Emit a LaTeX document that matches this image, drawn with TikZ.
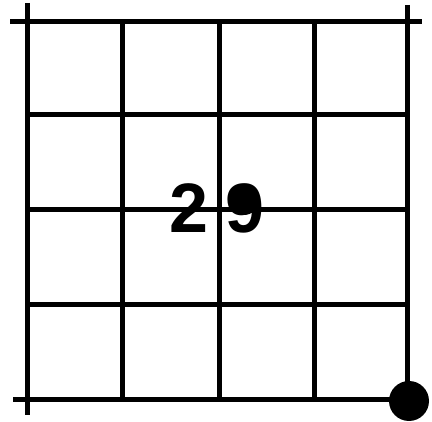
\documentclass[tikz,border=0pt]{standalone}
\usepackage{fontspec}
\setmainfont{Liberation Sans}
\tikzset{gridline/.style={line width=5pt, line cap=butt, black},
  numlabel/.style={inner sep=0pt, font=\fontsize{70}{70}\selectfont\bfseries}}
\begin{document}
\begin{tikzpicture}[x=1pt,y=-1pt]
\useasboundingbox (0,0) rectangle (432,422);
\fill[white] (0,0) rectangle (432,422);
% outer lines
\draw[gridline] (10,22) -- (422,22);
\draw[gridline] (13,400) -- (407,400);
\draw[gridline] (27,3) -- (27,415);
\draw[gridline] (407,5) -- (407,400);
% inner verticals
\foreach \x in {122,219,314} \draw[gridline] (\x,22) -- (\x,400);
% inner horizontals
\foreach \y in {115,210,305} \draw[gridline] (27,\y) -- (407,\y);
% label
\node[numlabel, anchor=base] (lbl) at (217,233) {2\kern18pt 9};
\fill (244,200) circle (15);
% corner dot
\fill (409,401) circle (20);
\end{tikzpicture}
\end{document}
